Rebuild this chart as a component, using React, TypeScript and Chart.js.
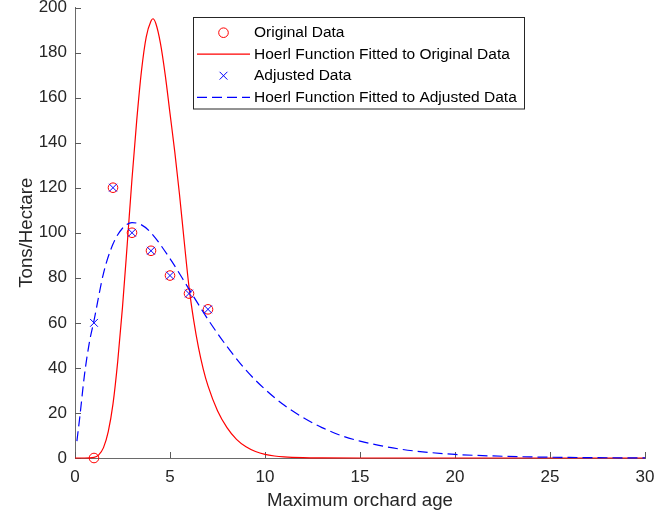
import React, { useEffect, useRef } from "react";
import { Chart, registerables } from "chart.js";

Chart.register(...registerables);

// ---- data ----
const originalX = [1, 2, 3, 4, 5, 6, 7];
const originalY = [0, 120, 100, 92, 81, 73, 66];

const adjustedX = [1, 2, 3, 4, 5, 6, 7];
const adjustedY = [60, 120, 100, 92, 81, 73, 66];

// Hoerl curve fitted to original data
const fitOrigX = [0, 0.5, 1, 1.25, 1.5, 1.75, 2, 2.25, 2.5, 2.75, 3, 3.25, 3.5, 3.75, 4, 4.1, 4.25, 4.5, 4.75, 5, 5.25, 5.5, 5.75, 6, 6.25, 6.5, 6.75, 7, 7.5, 8, 8.5, 9, 9.5, 10, 10.5, 11, 12, 13, 15, 20, 25, 30];
const fitOrigY = [0, 0, 0.3, 1.4, 4.6, 11.7, 24, 43, 67, 95, 124, 150, 172, 187, 194, 195, 193, 184, 170, 153, 136, 117, 96, 76, 61, 49, 39.5, 32, 21, 13.5, 8.3, 5, 2.9, 1.6, 0.9, 0.5, 0.15, 0.04, 0, 0, 0, 0];

// Hoerl curve fitted to adjusted data
const fitAdjX = [0.1, 0.25, 0.5, 0.75, 1, 1.5, 2, 2.5, 3, 3.5, 4, 5, 6, 7, 8, 9, 10, 11, 12, 13, 14, 15, 16, 17, 18, 20, 22, 24, 26, 28, 30];
const fitAdjY = [7.5, 18, 37, 51, 61, 82, 95, 102, 104.5, 103.5, 100, 88.5, 75, 61.5, 49.5, 39, 30.5, 23.5, 18, 13.5, 10, 7.5, 5.6, 4.1, 3.0, 1.6, 0.9, 0.47, 0.25, 0.12, 0.06];

const xTicks = [0, 5, 10, 15, 20, 25, 30];
const yTicks = [0, 20, 40, 60, 80, 100, 120, 140, 160, 180, 200];

const legendLabels = [
  "Original Data",
  "Hoerl Function Fitted to Original Data",
  "Adjusted Data",
  "Hoerl Function Fitted to Adjusted Data",
];
const xTitle = "Maximum orchard age";
const yTitle = "Tons/Hectare";

const FONT = '"Liberation Sans", Arial, Helvetica, sans-serif';
const RED = "#ff0000";
const BLUE = "#0000ff";
const AXIS = "#262626";

const toPoints = (xs: number[], ys: number[]) => xs.map((x, i) => ({ x, y: ys[i] }));

const inwardTicks = {
  id: "inwardTicks",
  beforeDatasetsDraw(chart: any) {
    const { ctx, chartArea, scales } = chart;
    ctx.save();
    ctx.strokeStyle = "#5a5a5a";
    ctx.lineWidth = 1;
    ctx.beginPath();
    xTicks.forEach((v) => {
      const px = Math.round(scales.x.getPixelForValue(v)) + 0.5;
      ctx.moveTo(px, chartArea.bottom);
      ctx.lineTo(px, chartArea.bottom - 6);
    });
    yTicks.forEach((v) => {
      const py = Math.round(scales.y.getPixelForValue(v)) + 0.5;
      ctx.moveTo(chartArea.left, py);
      ctx.lineTo(chartArea.left + 6, py);
    });
    ctx.stroke();
    ctx.restore();
  },
};

const customLegend = {
  id: "customLegend",
  afterDraw(chart: any) {
    const ctx = chart.ctx;
    ctx.save();
    const bx = 193.5, by = 17.5, bw = 331, bh = 91.5;
    ctx.fillStyle = "#ffffff";
    ctx.fillRect(bx, by, bw, bh);
    ctx.strokeStyle = AXIS;
    ctx.lineWidth = 1;
    ctx.strokeRect(bx, by, bw, bh);

    const rows = [32.7, 54.2, 75.7, 97.3];
    const x0 = 197, x1 = 250, xm = 223.5, tx = 254;

    ctx.strokeStyle = RED;
    ctx.lineWidth = 1;
    ctx.beginPath();
    ctx.arc(xm, rows[0], 4.8, 0, Math.PI * 2);
    ctx.stroke();

    ctx.beginPath();
    ctx.moveTo(x0, rows[1]);
    ctx.lineTo(x1, rows[1]);
    ctx.lineWidth = 1.2;
    ctx.stroke();

    ctx.strokeStyle = BLUE;
    ctx.lineWidth = 1;
    const d = 3.9;
    ctx.beginPath();
    ctx.moveTo(xm - d, rows[2] - d);
    ctx.lineTo(xm + d, rows[2] + d);
    ctx.moveTo(xm + d, rows[2] - d);
    ctx.lineTo(xm - d, rows[2] + d);
    ctx.stroke();

    ctx.setLineDash([10, 5]);
    ctx.lineWidth = 1.2;
    ctx.beginPath();
    ctx.moveTo(x0, rows[3]);
    ctx.lineTo(x1, rows[3]);
    ctx.stroke();
    ctx.setLineDash([]);

    ctx.fillStyle = "#000000";
    ctx.font = `15.5px ${FONT}`;
    ctx.textAlign = "left";
    ctx.textBaseline = "middle";
    legendLabels.forEach((t, i) => ctx.fillText(t, tx, rows[i] + 0.5));
    ctx.restore();
  },
};

export default function App() {
  const ref = useRef<HTMLCanvasElement | null>(null);

  useEffect(() => {
    if (!ref.current) return;
    const chart = new Chart(ref.current, {
      type: "scatter",
      data: {
        datasets: [
          {
            label: legendLabels[0],
            data: toPoints(originalX, originalY),
            pointStyle: "circle",
            pointRadius: 4.8,
            borderColor: RED,
            backgroundColor: "rgba(0,0,0,0)",
            borderWidth: 1,
            showLine: false,
            order: 4,
            clip: false,
          },
          {
            label: legendLabels[1],
            data: toPoints(fitOrigX, fitOrigY),
            showLine: true,
            pointRadius: 0,
            borderColor: RED,
            borderWidth: 1.2,
            cubicInterpolationMode: "monotone",
            order: 3,
            clip: false,
          },
          {
            label: legendLabels[2],
            data: toPoints(adjustedX, adjustedY),
            pointStyle: "crossRot",
            pointRadius: 5.5,
            borderColor: BLUE,
            backgroundColor: BLUE,
            borderWidth: 1,
            showLine: false,
            order: 2,
            clip: false,
          },
          {
            label: legendLabels[3],
            data: toPoints(fitAdjX, fitAdjY),
            showLine: true,
            pointRadius: 0,
            borderColor: BLUE,
            borderWidth: 1.2,
            borderDash: [10, 5],
            cubicInterpolationMode: "monotone",
            order: 1,
            clip: false,
          },
        ],
      },
      options: {
        animation: false,
        responsive: false,
        devicePixelRatio: 1,
        layout: { padding: { top: 7.5, right: 9, bottom: 0, left: 0 } },
        plugins: {
          legend: { display: false },
          tooltip: { enabled: false },
        },
        scales: {
          x: {
            type: "linear",
            min: 0,
            max: 30,
            afterBuildTicks: (scale: any) => {
              scale.ticks = xTicks.map((v) => ({ value: v }));
            },
            afterFit: (scale: any) => {
              scale.height = 60;
              scale.paddingLeft = 0;
              scale.paddingRight = 0;
            },
            grid: { display: false, drawTicks: false },
            border: { display: true, color: "#6a6a6a", width: 1 },
            ticks: {
              color: AXIS,
              font: { family: FONT, size: 17 },
              padding: 9,
              maxRotation: 0,
              autoSkip: false,
            },
            title: {
              display: true,
              text: xTitle,
              color: AXIS,
              font: { family: FONT, size: 18.7 },
              padding: { top: 0, bottom: 6 },
            },
          },
          y: {
            type: "linear",
            min: 0,
            max: 200,
            afterBuildTicks: (scale: any) => {
              scale.ticks = yTicks.map((v) => ({ value: v }));
            },
            afterFit: (scale: any) => {
              scale.width = 75;
              scale.paddingTop = 0;
              scale.paddingBottom = 0;
            },
            grid: { display: false, drawTicks: false },
            border: { display: true, color: "#6a6a6a", width: 1 },
            ticks: {
              color: AXIS,
              font: { family: FONT, size: 17 },
              padding: 8,
              autoSkip: false,
            },
            title: {
              display: true,
              text: yTitle,
              color: AXIS,
              font: { family: FONT, size: 18.7 },
              padding: { top: 16, bottom: 0 },
            },
          },
        },
      },
      plugins: [inwardTicks, customLegend],
    } as any);
    return () => chart.destroy();
  }, []);

  return (
    <div style={{ position: "absolute", left: 0, top: 0, width: 654, height: 518, background: "#fff" }}>
      <canvas ref={ref} width={654} height={518} style={{ display: "block", width: 654, height: 518 }} />
    </div>
  );
}
